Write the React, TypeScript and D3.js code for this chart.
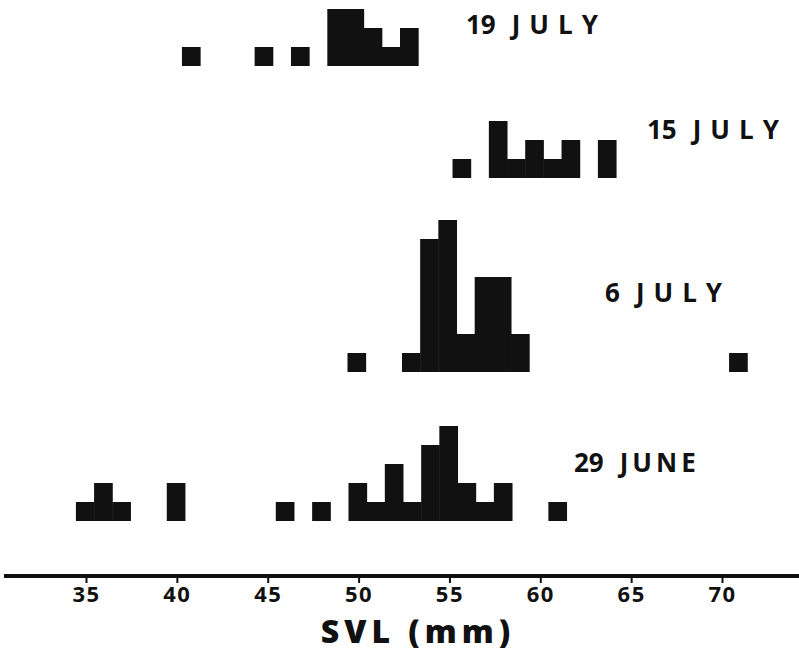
import React, { useEffect, useRef } from "react";
import * as d3 from "d3";

// SVL frequency histograms for four sampling dates (counts per 1 mm class)
const dates = ["19 JULY", "15 JULY", "6 JULY", "29 JUNE"];

const svl19July = [41, 45, 47, 49, 50, 51, 52, 53];
const count19July = [1, 1, 1, 3, 3, 2, 1, 2];

const svl15July = [56, 58, 59, 60, 61, 62, 64];
const count15July = [1, 3, 1, 2, 1, 2, 2];

const svl6July = [50, 53, 54, 55, 56, 57, 58, 59, 71];
const count6July = [1, 1, 7, 8, 2, 5, 5, 2, 1];

const svl29June = [35, 36, 37, 40, 46, 48, 50, 51, 52, 53, 54, 55, 56, 57, 58, 61];
const count29June = [1, 2, 1, 2, 1, 1, 2, 1, 3, 1, 4, 5, 2, 1, 2, 1];

const tickValues = [35, 40, 45, 50, 55, 60, 65, 70];
const axisTitle = "SVL (mm)";

const W = 799;
const H = 652;
const INK = "#111";
const FONT = "'Open Sans', sans-serif";

// layout of each panel: baseline y, small x shift, and where its date label sits
const panelBaseline = [66, 178, 372, 521];
const panelShift = [-4, -6, -2, -1];
const labelX = [466, 647, 605, 574];
const labelY = [34, 139, 302, 472];

const panels = [
  { svl: svl19July, count: count19July },
  { svl: svl15July, count: count15July },
  { svl: svl6July, count: count6July },
  { svl: svl29June, count: count29June }
];

export default function App() {
  const axisRef = useRef<SVGGElement>(null);

  const x = d3.scaleLinear().domain([35, 70]).range([86, 722]);
  const binW = x(36) - x(35);
  const h = d3.scaleLinear().domain([0, 1]).range([0, 19]);

  useEffect(() => {
    const g = d3.select(axisRef.current);
    g.call(
      d3
        .axisBottom(x)
        .tickValues(tickValues)
        .tickSize(6)
        .tickPadding(3)
        .tickFormat(d3.format("d"))
    );
    g.select(".domain").remove();
    g.selectAll(".tick line").attr("stroke", INK).attr("stroke-width", 2);
    g.selectAll(".tick text")
      .attr("fill", INK)
      .attr("font-family", FONT)
      .attr("font-weight", 700)
      .attr("font-size", 22)
      .attr("letter-spacing", 1.5);
  }, []);

  return (
    <svg
      width={W}
      height={H}
      style={{ position: "absolute", left: 0, top: 0, background: "#fff" }}
    >
      {panels.map((p, i) => (
        <g key={dates[i]} transform={`translate(${panelShift[i]},0)`}>
          {p.svl.map((v, j) => (
            <rect
              key={v}
              x={x(v) - binW / 2}
              y={panelBaseline[i] - h(p.count[j])}
              width={binW + 0.5}
              height={h(p.count[j])}
              fill={INK}
            />
          ))}
        </g>
      ))}

      {dates.map((d, i) => (
        <text
          key={d}
          x={labelX[i]}
          y={labelY[i]}
          fill={INK}
          fontFamily={FONT}
          fontWeight={700}
          fontSize={26}
        >
          <tspan>{d.split(" ")[0]}</tspan>
          <tspan dx={16} style={{ letterSpacing: i === 3 ? 4 : 9 }}>
            {d.split(" ")[1]}
          </tspan>
        </text>
      ))}

      <line x1={4} x2={W} y1={576} y2={576} stroke={INK} strokeWidth={4} />
      <g ref={axisRef} transform="translate(0,577)" />

      <text
        x={418}
        y={643}
        textAnchor="middle"
        fill={INK}
        fontFamily={FONT}
        fontWeight={800}
        fontSize={32}
        style={{ letterSpacing: 5 }}
      >
        {axisTitle}
      </text>
    </svg>
  );
}
